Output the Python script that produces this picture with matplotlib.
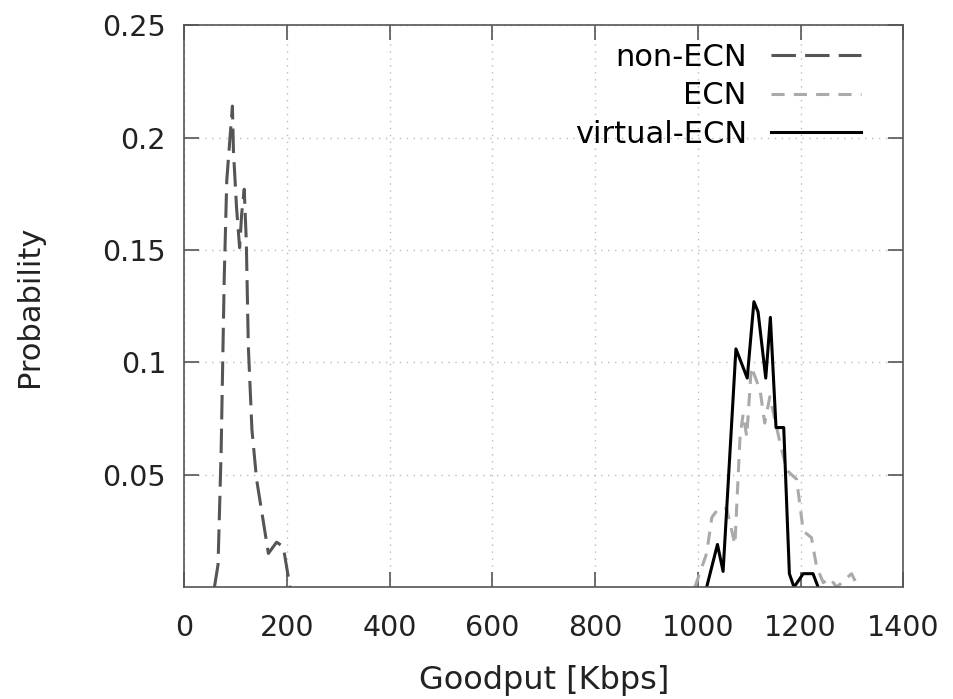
import matplotlib
matplotlib.use('Agg')
import matplotlib.pyplot as plt

# goodput [Kbps] and probability
non_ecn_x = [59, 66, 72, 78, 83, 94, 96, 102, 108, 112, 117, 121, 125, 132, 141, 164, 180, 193, 206]
non_ecn_y = [0.0, 0.010, 0.060, 0.137, 0.181, 0.214, 0.194, 0.169, 0.151, 0.166, 0.177, 0.154,
             0.107, 0.070, 0.048, 0.015, 0.020, 0.018, 0.0]

ecn_x = [994, 1017, 1027, 1040, 1056, 1072, 1082, 1088, 1095, 1104, 1121, 1130, 1140,
         1160, 1173, 1192, 1205, 1221, 1231, 1244, 1257, 1270, 1299, 1312]
ecn_y = [0.0, 0.015, 0.031, 0.035, 0.035, 0.019, 0.067, 0.077, 0.067, 0.098, 0.0876,
         0.073, 0.0847, 0.064, 0.052, 0.048, 0.025, 0.022, 0.009, 0.002, 0.004, 0.0,
         0.006, 0.0]

vecn_x = [1017, 1038, 1049, 1074, 1096, 1109, 1117, 1132, 1141, 1152, 1167, 1178,
          1187, 1205, 1224, 1234]
vecn_y = [0.0, 0.019, 0.007, 0.106, 0.093, 0.127, 0.1225, 0.093, 0.120, 0.071, 0.071,
          0.006, 0.0, 0.006, 0.006, 0.0]

x_ticks = [0, 200, 400, 600, 800, 1000, 1200, 1400]
y_ticks = [0.05, 0.1, 0.15, 0.2, 0.25]

plt.rcParams['font.family'] = 'DejaVu Sans'
fig = plt.figure(figsize=(9.54, 6.99), dpi=100)
ax = fig.add_axes([0.193, 0.160, 0.754, 0.804])

ax.plot(non_ecn_x, non_ecn_y, color='#555555', lw=2.2, dashes=(8, 3), label='non-ECN')
ax.plot(ecn_x, ecn_y, color='#aaaaaa', lw=2.2, dashes=(4.3, 3), label='ECN')
ax.plot(vecn_x, vecn_y, color='black', lw=2.2, label='virtual-ECN')

ax.set_xlim(0, 1400)
ax.set_ylim(0, 0.25)
ax.set_xticks(x_ticks)
ax.set_yticks(y_ticks)
ax.set_yticklabels(['0.05', '0.1', '0.15', '0.2', '0.25'])
ax.grid(True, color='#bbbbbb', linestyle=(0, (1, 4)), linewidth=1.0)
ax.tick_params(direction='in', length=10.5, width=1.2, color='#555555',
               top=True, right=True, labelsize=20.5, labelcolor='#222222')
ax.tick_params(axis='x', pad=19)
ax.tick_params(axis='y', pad=13)
for s in ax.spines.values():
    s.set_color('#555555')
    s.set_linewidth(1.2)

ax.set_xlabel('Goodput [Kbps]', fontsize=23, labelpad=17, color='#222222')
ax.set_ylabel('Probability', fontsize=22, labelpad=42, color='#222222')

# markerfirst=False right-aligns the entries, so labels line up against the samples
ax.legend(loc='upper right', bbox_to_anchor=(0.958, 0.99), frameon=False,
          markerfirst=False, fontsize=22, handlelength=2.95, handletextpad=0.79,
          labelspacing=0.31, borderaxespad=0)

fig.savefig('out.png', dpi=100)
